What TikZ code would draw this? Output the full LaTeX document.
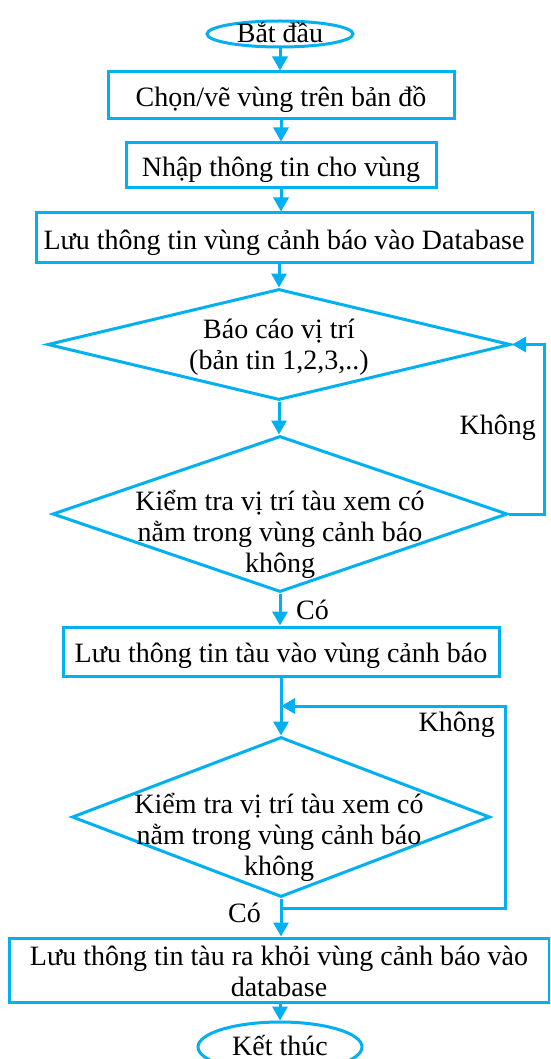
\documentclass[tikz,border=0pt]{standalone}
\usepackage{fontspec}
\setmainfont{Liberation Serif}
\usetikzlibrary{shapes.geometric,arrows.meta}
\definecolor{flow}{RGB}{0,176,240}
\begin{document}
\begin{tikzpicture}[x=1pt,y=-1pt,
  line/.style={draw=flow,line width=3pt},
  arr/.style={line,-{Triangle[length=14pt,width=15pt]}},
  box/.style={line,rectangle,inner sep=0pt},
  term/.style={line,ellipse,inner sep=0pt},
  dec/.style={line,diamond,inner sep=0pt},
  txt/.style={font=\fontsize{28}{31}\selectfont,align=center,inner sep=0pt,anchor=base},
]
\clip (0,0) rectangle (550,1059);
\fill[white] (0,0) rectangle (550,1059);

% shapes
\node[term,minimum width=146,minimum height=26] (start) at (280,34) {};
\node[box,minimum width=346,minimum height=47] (b1) at (281,95.5) {};
\node[box,minimum width=310,minimum height=45] (b2) at (281,165.5) {};
\node[box,minimum width=496,minimum height=49] (b3) at (284,237.5) {};
\node[dec,minimum width=463,minimum height=111] (d1) at (279,344.5) {};
\node[dec,minimum width=455,minimum height=156] (d2) at (280,514) {};
\node[box,minimum width=436,minimum height=49] (b4) at (281,651.5) {};
\node[dec,minimum width=418,minimum height=160] (d3) at (281,817) {};
\node[box,minimum width=540,minimum height=64] (b5) at (279,970) {};
\node[term,minimum width=164,minimum height=50] (end) at (280,1047) {};

% texts (base anchor = baseline of the last line)
\node[txt] (tstart) at (280,43) {Bắt đầu};
\node[txt] (t1) at (281,107) {Chọn/vẽ vùng trên bản đồ};
\node[txt] (t2) at (281,177) {Nhập thông tin cho vùng};
\node[txt] (t3) at (284,249) {Lưu thông tin vùng cảnh báo vào Database};
\node[txt] (td1) at (279,369) {Báo cáo vị trí\\(bản tin 1,2,3,..)};
\node[txt] (td2) at (280,572) {Kiểm tra vị trí tàu xem có\\nằm trong vùng cảnh báo\\không};
\node[txt] (t4) at (281,662) {Lưu thông tin tàu vào vùng cảnh báo};
\node[txt] (td3) at (279,875) {Kiểm tra vị trí tàu xem có\\nằm trong vùng cảnh báo\\không};
\node[txt] (t5) at (279,996) {Lưu thông tin tàu ra khỏi vùng cảnh báo vào\\database};
\node[txt] (tend) at (280,1055) {Kết thúc};

\node[txt,anchor=base east] (no1) at (536,434) {Không};
\node[txt,anchor=base west] (yes1) at (296,619) {Có};
\node[txt,anchor=base east] (no2) at (495,731) {Không};
\node[txt,anchor=base west] (yes2) at (228,922) {Có};

% connectors
\coordinate (r1) at (544,0);
\coordinate (r2) at (505,0);
\coordinate (j2) at (281,908);
\coordinate (m2) at (281,706);

\draw[arr] (start.south) -- (start.south |- b1.north);
\draw[arr] (b1.south) -- (b1.south |- b2.north);
\draw[arr] (b2.south) -- (b2.south |- b3.north);
\draw[arr] (b3.south -| d1.north) -- (d1.north);
\draw[arr] (d1.south) -- (d1.south |- d2.north);
\draw[arr] (d2.south) -- (d2.south |- b4.north);
\draw[arr] (d2.east) -- (d2.east -| r1) |- (d1.east);
\draw[arr] (b4.south) -- (b4.south |- d3.north);
\draw[arr] (d3.south) -- (d3.south |- b5.north);
\draw[arr] (j2) -- (j2 -| r2) |- (m2);
\draw[arr] (b5.south -| end.north) -- (end.north);
\end{tikzpicture}
\end{document}
